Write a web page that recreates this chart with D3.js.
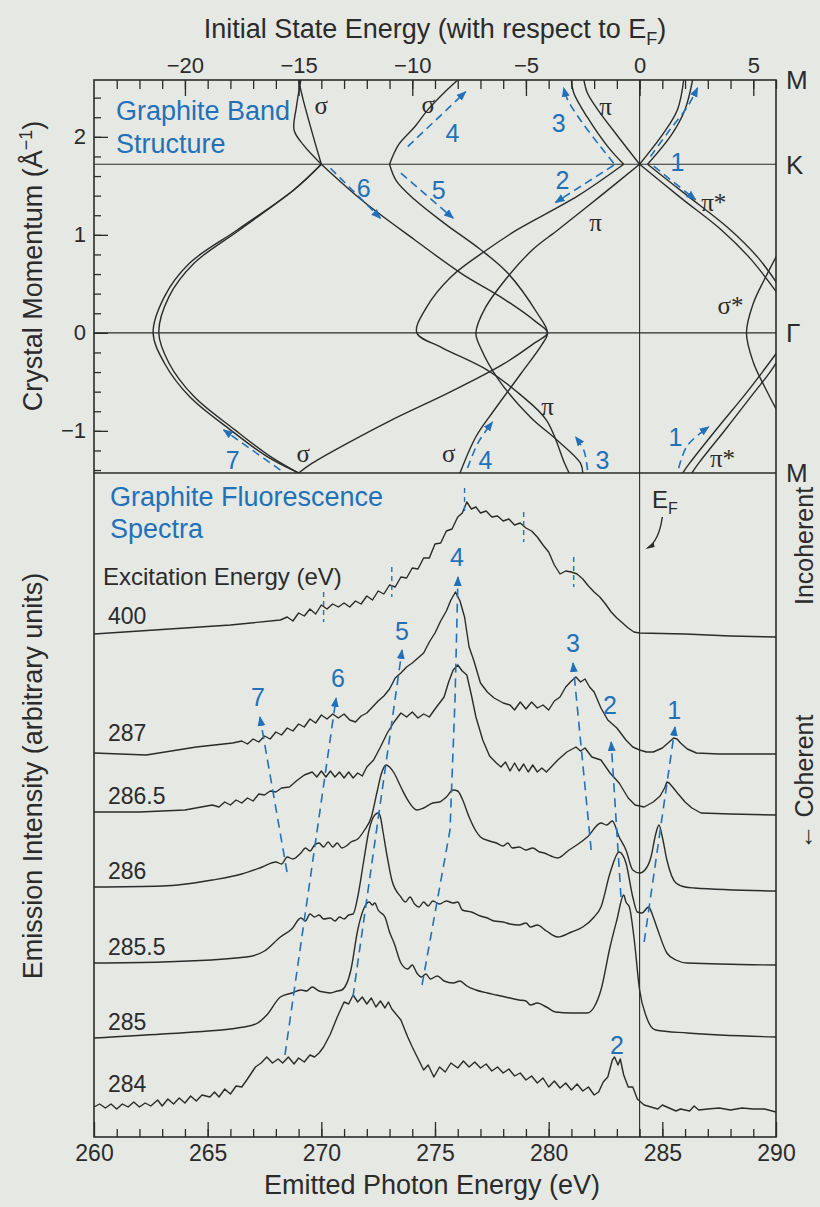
<!DOCTYPE html>
<html>
<head>
<meta charset="utf-8">
<script src="https://cdn.jsdelivr.net/npm/d3@7"></script>
<style>
  body { margin: 0; background: #e5e8e3; }
  svg text { font-family: "Liberation Sans", Arial, sans-serif; fill: #2b2b2b; }
  .greek { font-family: "Liberation Serif", "DejaVu Serif", serif; }
</style>
</head>
<body>
<svg id="chart" width="820" height="1207"></svg>
<script>
// ---- spectra: [emitted photon energy (eV), intensity (arb. units, offset included)]
var excitationLabels = ["400", "287", "286.5", "286", "285.5", "285", "284"];
var labelIntensity = [51.3, 39.6, 33.3, 25.8, 18.2, 10.7, 4.5];

var spec400 = [[260,50.3],[262,50.6],[264,50.9],[266,51.2],[268.2,51.7],[268.5,52.0],[268.75,51.6],[269,52.4],[269.25,52.1],[269.5,52.8],[269.75,52.3],[270,53.2],[270.25,52.8],[270.5,53.3],[270.75,53.0],[271,53.4],[271.25,53.0],[271.5,53.6],[271.75,53.3],[272,54.1],[272.25,53.7],[272.5,54.6],[272.75,54.3],[273,55.2],[273.25,55.0],[273.5,56.0],[273.75,55.9],[274,56.9],[274.25,56.8],[274.5,57.9],[274.75,57.9],[275,59.3],[275.25,59.4],[275.5,60.6],[275.75,60.8],[276,62.0],[276.2,62.4],[276.4,63.5],[276.6,62.8],[276.8,63.0],[277,62.4],[277.25,62.6],[277.5,62.0],[277.75,62.1],[278,61.6],[278.25,61.8],[278.5,61.2],[278.75,61.4],[279,60.9],[279.25,60.6],[279.5,60.0],[279.75,59.2],[280,58.5],[280.25,57.2],[280.5,56.3],[280.75,56.6],[281,56.5],[281.25,56.3],[281.5,55.8],[281.75,55.1],[282,54.5],[282.25,54.0],[282.5,53.3],[282.75,52.5],[283,51.9],[283.25,51.4],[283.5,50.9],[283.75,50.5],[284,50.4],[286,50.3],[288,50.1],[290,50.0]];

var spec287 = [[260,38.4],[262.3,38.2],[264.5,39.0],[266.1,39.4],[266.5,39.6],[266.75,39.3],[267,39.8],[267.25,39.5],[267.5,40.1],[267.75,39.8],[268,40.5],[268.25,40.2],[268.5,40.9],[268.75,40.6],[269,41.3],[269.25,41.0],[269.5,41.8],[269.75,41.4],[270,42.2],[270.25,41.8],[270.5,42.3],[270.75,41.9],[271,42.3],[271.25,41.7],[271.5,41.5],[271.75,42.1],[272,42.4],[272.25,43.0],[272.5,43.6],[272.75,44.1],[273,44.8],[273.25,45.9],[273.5,46.4],[273.75,47.0],[274,47.4],[274.25,47.9],[274.5,48.4],[274.75,49.5],[275,50.4],[275.25,51.6],[275.5,52.6],[275.7,53.7],[275.9,54.5],[276.1,53.6],[276.3,52.0],[276.5,49.0],[276.7,47.7],[277,45.4],[277.3,44.5],[277.6,43.9],[278,43.4],[278.3,43.2],[278.5,42.7],[278.75,43.5],[279,42.8],[279.25,43.5],[279.5,42.9],[279.75,43.2],[280,42.7],[280.25,43.6],[280.5,44.0],[280.75,45.0],[281,45.6],[281.2,46.0],[281.4,45.5],[281.6,45.8],[281.8,45.0],[282,44.5],[282.3,42.9],[282.6,41.7],[283,40.9],[283.4,39.7],[283.7,39.0],[284,38.7],[284.3,38.5],[284.6,38.5],[284.8,38.7],[285,38.9],[285.25,39.4],[285.5,39.9],[285.65,39.8],[285.8,39.4],[286.1,38.8],[286.5,38.4],[287.5,38.3],[290,38.3]];

var spec286p5 = [[260,32.5],[262,32.5],[264,32.7],[265.2,33.2],[265.5,33.0],[265.75,33.5],[266,33.2],[266.25,33.7],[266.5,33.4],[266.75,33.9],[267,33.6],[267.25,34.3],[267.5,34.2],[267.75,34.6],[268,34.5],[268.25,34.9],[268.6,35.0],[268.9,35.6],[269.25,36.2],[269.6,36.5],[269.8,36.0],[270,36.6],[270.2,36.0],[270.4,36.6],[270.6,36.0],[270.8,36.5],[271,35.9],[271.2,36.5],[271.4,35.9],[271.6,36.4],[271.8,36.1],[272,37.0],[272.3,37.7],[272.6,39.0],[272.9,40.4],[273.2,41.5],[273.5,42.4],[273.75,42.0],[274,42.5],[274.25,41.9],[274.5,42.3],[274.75,42.0],[275,42.8],[275.4,44.0],[275.6,45.5],[275.8,46.7],[276,47.2],[276.2,46.6],[276.4,46.2],[276.6,44.2],[276.8,42.0],[277.1,39.7],[277.4,38.1],[277.7,37.4],[277.9,37.0],[278.1,37.5],[278.3,36.6],[278.5,37.4],[278.7,36.6],[278.9,37.3],[279.1,36.5],[279.3,37.2],[279.5,36.5],[279.7,36.9],[279.9,36.5],[280.4,37.7],[280.8,38.5],[281.2,39.0],[281.4,38.6],[281.6,38.9],[281.9,38.0],[282.3,37.7],[282.7,36.4],[283.1,35.4],[283.5,33.9],[283.8,33.2],[284.2,33.0],[284.6,33.5],[284.9,34.1],[285.1,34.9],[285.2,35.5],[285.3,35.4],[285.45,35.0],[285.7,34.3],[286,33.5],[286.3,32.9],[286.7,32.4],[288,32.3],[290,32.2]];

var spec286 = [[260,25.0],[263,25.1],[265.2,25.7],[266.5,26.3],[267.4,27.0],[268,27.5],[268.25,27.3],[268.5,28.0],[268.75,27.8],[269.1,28.4],[269.3,28.9],[269.5,28.6],[269.7,29.2],[269.9,29.4],[270.1,29.0],[270.3,29.5],[270.5,29.0],[270.7,29.4],[270.9,28.9],[271.1,29.1],[271.3,29.5],[271.6,29.8],[271.9,30.7],[272.2,32.0],[272.45,34.5],[272.65,36.4],[272.85,37.2],[273,37.0],[273.2,36.4],[273.5,35.0],[273.8,33.7],[274.2,32.7],[274.5,32.9],[274.9,33.4],[275.2,33.5],[275.5,34.0],[275.8,34.7],[276,34.6],[276.2,33.8],[276.5,32.0],[276.8,30.6],[277,30.0],[277.4,29.6],[277.7,29.4],[278,29.1],[278.2,29.4],[278.4,28.9],[278.7,29.0],[279,28.7],[279.3,28.9],[279.6,28.5],[279.8,28.4],[280.1,28.1],[280.4,27.9],[280.9,28.7],[281.3,29.3],[281.7,30.0],[282.3,31.4],[282.55,31.2],[282.8,31.6],[283.1,30.0],[283.4,28.7],[283.7,26.7],[284,26.4],[284.3,26.9],[284.5,28.0],[284.7,30.2],[284.85,31.2],[285,30.0],[285.2,27.7],[285.6,25.4],[286,25.0],[286.4,24.9],[290,24.6]];

var spec285p5 = [[260,17.4],[263,17.5],[266.7,18.0],[267.5,18.6],[268.2,20.0],[268.7,20.8],[269.1,21.9],[269.3,21.6],[269.5,22.3],[269.7,22.0],[269.9,22.2],[270.1,21.8],[270.4,21.9],[270.6,21.6],[270.8,22.0],[271,21.8],[271.2,22.2],[271.4,22.3],[271.6,24.0],[271.85,27.4],[272.1,30.7],[272.35,32.2],[272.5,32.4],[272.6,32.0],[272.7,30.7],[272.9,28.0],[273.1,25.7],[273.5,24.0],[273.7,23.5],[273.9,24.0],[274.1,23.3],[274.3,23.0],[274.5,23.5],[274.7,23.1],[274.9,23.6],[275.2,23.3],[275.5,23.6],[275.8,23.4],[276,23.5],[276.2,22.7],[276.6,22.5],[277,22.1],[277.3,21.9],[277.6,21.6],[278,21.5],[278.3,21.3],[278.7,21.2],[279,21.4],[279.2,21.0],[279.5,21.2],[279.9,20.6],[280.4,20.0],[281,20.5],[281.5,21.0],[282,22.0],[282.3,23.0],[282.7,26.4],[283.1,28.5],[283.4,27.4],[283.7,24.0],[283.9,22.5],[284.1,22.4],[284.4,23.0],[284.6,22.0],[284.8,20.7],[285.2,18.4],[285.6,17.7],[286.1,17.4],[290,17.2]];

var spec285 = [[260,9.9],[263,10.3],[266.6,11.0],[267.2,11.4],[267.6,12.2],[268.2,14.0],[268.7,14.4],[269.1,14.7],[269.35,14.6],[269.6,15.0],[269.9,14.6],[270.1,14.5],[270.4,14.4],[270.7,14.6],[270.9,14.7],[271.3,16.7],[271.6,20.7],[271.9,23.0],[272.1,23.5],[272.25,23.2],[272.35,23.4],[272.5,22.7],[272.8,22.0],[273,20.5],[273.2,19.4],[273.5,17.4],[273.8,16.8],[274,17.2],[274.2,16.4],[274.4,16.0],[274.6,16.3],[274.8,15.8],[275.1,16.1],[275.4,15.6],[275.8,15.4],[276.1,15.6],[276.4,15.1],[276.8,14.7],[277.3,14.4],[277.7,14.2],[278.1,14.0],[278.7,13.7],[279,13.6],[279.2,13.2],[279.5,13.4],[279.9,13.0],[280.3,12.5],[281,12.4],[281.7,12.4],[282,13.0],[282.3,14.7],[282.7,19.0],[283,21.7],[283.3,24.2],[283.4,23.5],[283.55,23.0],[283.75,20.0],[284,14.7],[284.3,12.0],[284.7,10.7],[286.1,10.4],[290,10.0]];

var spec284 = [[260,3.0],[260.25,3.3],[260.5,2.9],[260.75,3.3],[261,2.8],[261.25,3.3],[261.5,3.0],[261.75,3.5],[262,3.0],[262.25,3.4],[262.5,3.1],[262.8,3.7],[263,3.1],[263.25,3.8],[263.5,3.3],[263.75,3.9],[264,3.4],[264.25,4.1],[264.5,3.6],[264.75,4.2],[265.1,4.0],[265.3,4.5],[265.5,4.0],[265.75,4.8],[266,4.3],[266.25,5.1],[266.5,5.0],[266.75,5.8],[267.1,7.0],[267.35,7.4],[267.6,8.0],[267.85,7.4],[268.1,7.8],[268.3,7.4],[268.55,8.0],[268.8,7.3],[269,7.9],[269.25,7.5],[269.5,8.2],[269.7,8.0],[269.9,8.4],[270.1,9.0],[270.4,10.3],[270.7,12.0],[271,13.5],[271.2,13.3],[271.4,14.2],[271.6,13.5],[271.8,14.0],[272,13.3],[272.2,13.9],[272.4,13.0],[272.6,13.6],[272.8,12.9],[272.95,13.5],[273.1,12.8],[273.5,11.7],[273.8,10.0],[274,9.0],[274.5,6.7],[274.7,7.2],[274.95,6.0],[275.2,7.0],[275.45,6.5],[275.7,7.4],[276,6.9],[276.25,7.6],[276.5,7.0],[276.75,7.5],[277,6.9],[277.25,7.3],[277.5,6.6],[277.75,7.0],[278,6.4],[278.25,6.8],[278.5,6.1],[278.75,6.4],[279,5.7],[279.25,6.1],[279.5,5.4],[279.75,5.9],[280,5.0],[280.25,5.6],[280.5,4.9],[280.75,5.4],[281,4.7],[281.25,5.3],[281.5,4.6],[281.75,5.0],[282,4.2],[282.2,4.5],[282.4,5.5],[282.6,6.0],[282.8,7.7],[282.9,8.0],[283.05,7.2],[283.15,7.8],[283.3,6.2],[283.5,5.0],[283.7,5.0],[283.9,3.8],[284.2,3.2],[284.5,3.0],[284.8,2.8],[285,3.2],[285.3,2.9],[285.6,2.6],[285.8,2.8],[286.2,2.6],[286.4,3.1],[286.6,2.7],[287,2.8],[287.5,2.9],[288,2.7],[288.5,2.9],[289,2.8],[289.5,2.8],[290,2.5]];

var spectra = [spec400, spec287, spec286p5, spec286, spec285p5, spec285, spec284];
var noisySpectra = [true, true, true, false, false, false, true];

// dashed guides joining features across spectra (label, path in [eV, intensity])
var featureGuides = [
  {label: "1", path: [[284.2,19.5],[285.56,41.0]], at: [285.52,42.7]},
  {label: "2", path: [[283.18,24.0],[282.75,39.5]], at: [282.70,43.2]},
  {label: "3", path: [[281.87,28.7],[281.07,47.4]], at: [281.07,49.4]},
  {label: "4", path: [[274.43,15.2],[275.66,30.7],[275.88,43.7],[276.01,56.0]], at: [275.97,58.0]},
  {label: "5", path: [[271.39,14.0],[273.55,48.7]], at: [273.55,50.6]},
  {label: "6", path: [[268.4,8.2],[270.65,43.9]], at: [270.73,45.9]},
  {label: "7", path: [[268.49,26.5],[267.3,42.0]], at: [267.21,44.0]}
];
var incoherentMarks = [[270.1,54.5,51.5],[273.1,57.0,54.0],[276.3,64.9,62.2],[278.9,62.5,59.5],[281.1,58.0,55.0]];

// ---- band structure: [energy relative to E_F (eV), crystal momentum (1/Å)]
var symPoints = [["M", 2.58], ["K", 1.72], ["\u0393", 0], ["M", -1.43]];

var sigma1aLow = [[-15.0,-1.43],[-16.4,-1.26],[-18.0,-0.99],[-19.8,-0.65],[-20.9,-0.31],[-21.4,0],[-20.9,0.37],[-19.8,0.71],[-17.7,1.05],[-15.2,1.46],[-14.0,1.72]];
var sigma1bLow = [[-15.0,-1.43],[-16.25,-1.26],[-17.8,-0.99],[-19.6,-0.65],[-20.7,-0.31],[-21.15,0],[-20.7,0.37],[-19.6,0.71],[-17.6,1.05],[-15.2,1.46],[-14.0,1.72]];
var sigma1Up = [[-14.0,1.72],[-14.4,2.04],[-14.8,2.38],[-15.0,2.58]];
var sigma2Low = [[-15.0,-1.43],[-14.4,-1.33],[-12.8,-1.12],[-11.0,-0.9],[-8.3,-0.6],[-6.0,-0.32],[-4.6,-0.1],[-4.05,0],[-4.6,0.12],[-6.0,0.35],[-7.8,0.6],[-9.9,0.95],[-12.2,1.35],[-14.0,1.72]];
var sigma2Up = [[-14.0,1.72],[-14.8,1.92],[-15.2,2.07],[-15.1,2.3],[-14.9,2.58]];
var sigma3Low = [[-7.9,-1.43],[-7.2,-1.06],[-6.4,-0.79],[-5.2,-0.41],[-4.3,-0.12],[-4.05,0],[-4.5,0.2],[-5.8,0.61],[-7.0,0.85],[-8.6,1.12],[-9.9,1.36],[-10.7,1.55],[-11.0,1.72]];
var sigma3Up = [[-11.0,1.72],[-10.6,1.92],[-9.9,2.1],[-9.3,2.28],[-8.6,2.45],[-8.0,2.58]];
var piALow = [[-3.1,-1.43],[-3.3,-1.33],[-4.1,-0.89],[-5.3,-0.62],[-6.7,-0.38],[-8.7,-0.15],[-9.8,0],[-9.4,0.25],[-8.3,0.57],[-6.7,0.85],[-5.4,1.05],[-2.7,1.4],[-0.7,1.72]];
var piBLow = [[-2.5,-1.43],[-2.6,-1.33],[-3.6,-1.1],[-4.8,-0.86],[-6.2,-0.48],[-7.0,-0.15],[-7.2,0],[-6.8,0.25],[-5.7,0.6],[-4.7,0.85],[-3.6,1.05],[-1.7,1.4],[0,1.72]];
var piAUp = [[-0.7,1.72],[-1.4,1.9],[-2.3,2.2],[-2.9,2.45],[-3.0,2.58]];
var piBUp = [[0,1.72],[-0.84,1.97],[-1.85,2.28],[-2.3,2.45],[-2.45,2.58]];
var piStarALow = [[1.9,-1.43],[2.2,-1.33],[3.5,-0.95],[4.6,-0.64],[5.4,-0.4],[6.2,-0.15]];
var piStarBLow = [[2.3,-1.43],[2.6,-1.33],[3.9,-0.95],[5.0,-0.62],[5.8,-0.38],[6.4,-0.15]];
var piStarAMid = [[0,1.72],[1.8,1.38],[3.6,1.05],[4.9,0.75],[6.2,0.36]];
var piStarBMid = [[0.35,1.72],[2.1,1.4],[3.9,1.07],[5.2,0.77],[6.3,0.42]];
var piStarAUp = [[0,1.72],[1.06,2.04],[1.67,2.28],[1.94,2.58]];
var piStarBUp = [[0.35,1.72],[1.4,2.02],[2.0,2.28],[2.33,2.58]];
var sigmaStar = [[6.4,-0.95],[5.5,-0.55],[5.0,-0.3],[4.7,0],[5.0,0.3],[5.5,0.55],[6.4,0.95]];

var bands = [sigma1aLow, sigma1bLow, sigma1Up, sigma2Low, sigma2Up, sigma3Low, sigma3Up,
  piALow, piBLow, piAUp, piBUp, piStarALow, piStarBLow, piStarAMid, piStarBMid,
  piStarAUp, piStarBUp, sigmaStar];

var bandLabels = [["\u03c3",-14.0,2.31],["\u03c3",-9.3,2.33],["\u03c0",-1.5,2.30],["\u03c0",-1.94,1.12],
  ["\u03c0*",3.26,1.33],["\u03c3*",4.0,0.27],["\u03c0",-4.05,-0.76],["\u03c3",-14.8,-1.24],
  ["\u03c3",-8.4,-1.24],["\u03c0*",3.65,-1.29]];

var bandArrows = [
  {label: "1", at: [1.67,1.74], path: [[0.48,1.80],[1.23,2.04],[2.11,2.31],[2.55,2.50]]},
  {label: "", at: null, path: [[0.62,1.70],[2.46,1.36]]},
  {label: "2", at: [-3.39,1.56], path: [[-1.14,1.71],[-3.7,1.33]]},
  {label: "3", at: [-3.56,2.14], path: [[-1.14,1.73],[-1.72,1.90],[-2.6,2.17],[-3.17,2.38],[-3.34,2.5]]},
  {label: "4", at: [-8.23,2.04], path: [[-10.2,1.90],[-7.65,2.46]]},
  {label: "5", at: [-8.84,1.46], path: [[-10.5,1.63],[-8.2,1.17]]},
  {label: "6", at: [-12.14,1.48], path: [[-13.6,1.68],[-11.4,1.17]]},
  {label: "7", at: [-17.9,-1.30], path: [[-15.8,-1.40],[-18.3,-0.99]]},
  {label: "4", at: [-6.78,-1.30], path: [[-7.57,-1.38],[-7.1,-1.12],[-6.47,-0.91]]},
  {label: "3", at: [-1.63,-1.30], path: [[-2.29,-1.40],[-2.45,-1.2],[-2.82,-1.06]]},
  {label: "1", at: [1.58,-1.07], path: [[1.72,-1.38],[2.1,-1.15],[3.04,-0.96]]}
];

// ---- scales
var blue = "#2271b8", ink = "#2b2b2b";
var x = d3.scaleLinear().domain([260, 290]).range([94, 776]);
var xTop = d3.scaleLinear().domain([-24, 6]).range([94, 776]);
var yK = d3.scaleLinear().domain([-1.43, 2.58]).range([473, 80]);
var yI = d3.scaleLinear().domain([0, 66.4]).range([1137, 473]);

var svg = d3.select("#chart");
var defs = svg.append("defs");
defs.append("clipPath").attr("id", "bandClip").append("rect")
  .attr("x", 94).attr("y", 80).attr("width", 682).attr("height", 393);
defs.append("marker").attr("id", "head").attr("viewBox", "0 -5 10 10")
  .attr("refX", 9).attr("refY", 0).attr("markerWidth", 10).attr("markerHeight", 10)
  .attr("markerUnits", "userSpaceOnUse").attr("orient", "auto")
  .append("path").attr("d", "M0,-4L10,0L0,4Z").attr("fill", blue);

// ---- axes
var topMajor = d3.range(-20, 6, 5), topMinor = d3.range(-23, 7, 1);
svg.append("g").attr("transform", "translate(0,80)")
  .call(d3.axisTop(xTop).tickValues(topMinor).tickSize(-9).tickFormat(""));
svg.append("g").attr("transform", "translate(0,80)")
  .call(d3.axisTop(xTop).tickValues(topMajor).tickSize(-16).tickPadding(7).tickFormat(d3.format("d")))
  .selectAll("text").attr("font-size", 22);

var botMajor = d3.range(260, 291, 5), botMinor = d3.range(261, 290, 1);
svg.append("g").attr("transform", "translate(0,1137)")
  .call(d3.axisBottom(x).tickValues(botMinor).tickSize(-8).tickFormat(""));
svg.append("g").attr("transform", "translate(0,1137)")
  .call(d3.axisBottom(x).tickValues(botMajor).tickSize(-15).tickPadding(8))
  .selectAll("text").attr("font-size", 23);

var kMinor = d3.range(-1.4, 2.5, 0.2), kMajor = [-1, 0, 1, 2];
svg.append("g").attr("transform", "translate(94,0)")
  .call(d3.axisLeft(yK).tickValues(kMinor).tickSize(-7).tickFormat(""));
svg.append("g").attr("transform", "translate(94,0)")
  .call(d3.axisLeft(yK).tickValues(kMajor).tickSize(-14).tickPadding(8).tickFormat(d3.format("d")))
  .selectAll("text").attr("font-size", 22);

svg.selectAll(".domain").remove();
svg.selectAll(".tick line").attr("stroke", ink).attr("stroke-width", 1.3);
svg.selectAll(".tick text").attr("fill", ink).style("font-family", "'Liberation Sans', Arial, sans-serif");

// ---- frame and reference lines
svg.append("rect").attr("x", 94).attr("y", 80).attr("width", 682).attr("height", 1057)
  .attr("fill", "none").attr("stroke", ink).attr("stroke-width", 1.6);
svg.append("line").attr("x1", 94).attr("x2", 776).attr("y1", yK(-1.43)).attr("y2", yK(-1.43))
  .attr("stroke", ink).attr("stroke-width", 1.6);
[0, 1.72].forEach(function(k) {
  svg.append("line").attr("x1", 94).attr("x2", 776).attr("y1", yK(k)).attr("y2", yK(k))
    .attr("stroke", ink).attr("stroke-width", 1.1);
});
svg.append("line").attr("x1", x(284)).attr("x2", x(284)).attr("y1", 80).attr("y2", 1137)
  .attr("stroke", ink).attr("stroke-width", 1.1);

// ---- bands
var bandLine = d3.line().x(function(d) { return xTop(d[0]); }).y(function(d) { return yK(d[1]); })
  .curve(d3.curveCatmullRom.alpha(0.5));
svg.append("g").attr("clip-path", "url(#bandClip)").selectAll("path").data(bands).enter()
  .append("path").attr("d", bandLine).attr("fill", "none").attr("stroke", ink).attr("stroke-width", 1.4);

svg.append("g").selectAll("text").data(bandLabels).enter().append("text")
  .attr("class", "greek").attr("x", function(d) { return xTop(d[1]); }).attr("y", function(d) { return yK(d[2]); })
  .attr("dy", "0.32em").attr("text-anchor", "middle").attr("font-size", 25)
  .text(function(d) { return d[0]; });

var arrowLine = d3.line().x(function(d) { return xTop(d[0]); }).y(function(d) { return yK(d[1]); })
  .curve(d3.curveCatmullRom);
var ba = svg.append("g");
ba.selectAll("path").data(bandArrows).enter().append("path")
  .attr("d", function(d) { return arrowLine(d.path); }).attr("fill", "none").attr("stroke", blue)
  .attr("stroke-width", 1.6).attr("stroke-dasharray", "8,5").attr("marker-end", "url(#head)");
ba.selectAll("text").data(bandArrows.filter(function(d) { return d.at; })).enter().append("text")
  .attr("x", function(d) { return xTop(d.at[0]); }).attr("y", function(d) { return yK(d.at[1]); })
  .attr("dy", "0.35em").attr("text-anchor", "middle").attr("font-size", 25).style("fill", blue)
  .text(function(d) { return d.label; });

svg.append("g").selectAll("text").data(symPoints).enter().append("text")
  .attr("x", 786).attr("y", function(d) { return yK(d[1]); }).attr("dy", "0.36em")
  .attr("font-size", 26).text(function(d) { return d[0]; });

// ---- spectra
var specLineNoisy = d3.line().x(function(d) { return x(d[0]); }).y(function(d) { return yI(d[1]); });
var specLineSmooth = d3.line().x(function(d) { return x(d[0]); }).y(function(d) { return yI(d[1]); })
  .curve(d3.curveMonotoneX);
svg.append("g").selectAll("path").data(spectra).enter().append("path")
  .attr("d", function(d, i) { return noisySpectra[i] ? specLineNoisy(d) : specLineSmooth(d); })
  .attr("fill", "none").attr("stroke", ink).attr("stroke-width", 1.4).attr("stroke-linejoin", "round");

svg.append("g").selectAll("text").data(excitationLabels).enter().append("text")
  .attr("x", 108).attr("y", function(d, i) { return yI(labelIntensity[i]); })
  .attr("font-size", 23).text(function(d) { return d; });

var guideLine = d3.line().x(function(d) { return x(d[0]); }).y(function(d) { return yI(d[1]); });
var fg = svg.append("g");
fg.selectAll("path").data(featureGuides).enter().append("path")
  .attr("d", function(d) { return guideLine(d.path); }).attr("fill", "none").attr("stroke", blue)
  .attr("stroke-width", 1.6).attr("stroke-dasharray", "9,6").attr("marker-end", "url(#head)");
fg.selectAll("text").data(featureGuides).enter().append("text")
  .attr("x", function(d) { return x(d.at[0]); }).attr("y", function(d) { return yI(d.at[1]); })
  .attr("dy", "0.35em").attr("text-anchor", "middle").attr("font-size", 25).style("fill", blue)
  .text(function(d) { return d.label; });
fg.append("text").attr("x", x(283.0)).attr("y", yI(9.2)).attr("dy", "0.35em")
  .attr("text-anchor", "middle").attr("font-size", 25).style("fill", blue).text("2");
fg.selectAll("line").data(incoherentMarks).enter().append("line")
  .attr("x1", function(d) { return x(d[0]); }).attr("x2", function(d) { return x(d[0]); })
  .attr("y1", function(d) { return yI(d[1]); }).attr("y2", function(d) { return yI(d[2]); })
  .attr("stroke", blue).attr("stroke-width", 1.4).attr("stroke-dasharray", "5,4");

// E_F pointer
var ef = svg.append("g");
ef.append("text").attr("x", x(284.55)).attr("y", yI(62.9)).attr("font-size", 24)
  .text("E").append("tspan").attr("dy", 6).attr("font-size", 16).text("F");
ef.append("path").attr("fill", "none").attr("stroke", ink).attr("stroke-width", 1.4)
  .attr("d", "M" + x(285.0) + "," + yI(62.0) + " Q" + x(284.85) + "," + yI(59.6) + " " + x(284.35) + "," + yI(58.9));
ef.append("path").attr("fill", ink)
  .attr("d", "M" + (x(284.35) - 2) + "," + (yI(58.9) + 1) + " l8,-7 l1,5 z");

// ---- titles
svg.append("text").attr("x", 435).attr("y", 38).attr("text-anchor", "middle").attr("font-size", 27)
  .text("Initial State Energy (with respect to E")
  .call(function(t) { t.append("tspan").attr("dy", 7).attr("font-size", 18).text("F");
                      t.append("tspan").attr("dy", -7).text(")"); });
svg.append("text").attr("x", 432).attr("y", 1194).attr("text-anchor", "middle").attr("font-size", 27)
  .text("Emitted Photon Energy (eV)");
svg.append("text").attr("transform", "translate(42,266) rotate(-90)").attr("text-anchor", "middle")
  .attr("font-size", 27).text("Crystal Momentum (\u00c5")
  .call(function(t) { t.append("tspan").attr("dy", -10).attr("font-size", 18).text("\u22121");
                      t.append("tspan").attr("dy", 10).text(")"); });
svg.append("text").attr("transform", "translate(42,776) rotate(-90)").attr("text-anchor", "middle")
  .attr("font-size", 27).text("Emission Intensity (arbitrary units)");
svg.append("text").attr("transform", "translate(813,546) rotate(-90)").attr("text-anchor", "middle")
  .attr("font-size", 25).text("Incoherent");
svg.append("text").attr("transform", "translate(813,782) rotate(-90)").attr("text-anchor", "middle")
  .attr("font-size", 25).text("\u2190 Coherent");

svg.append("text").attr("x", 116).attr("y", 120).attr("font-size", 27).style("fill", blue).text("Graphite Band");
svg.append("text").attr("x", 116).attr("y", 153).attr("font-size", 27).style("fill", blue).text("Structure");
svg.append("text").attr("x", 110).attr("y", 506).attr("font-size", 27).style("fill", blue).text("Graphite Fluorescence");
svg.append("text").attr("x", 110).attr("y", 538).attr("font-size", 27).style("fill", blue).text("Spectra");
svg.append("text").attr("x", 103).attr("y", 585).attr("font-size", 24).text("Excitation Energy (eV)");
</script>
</body>
</html>
